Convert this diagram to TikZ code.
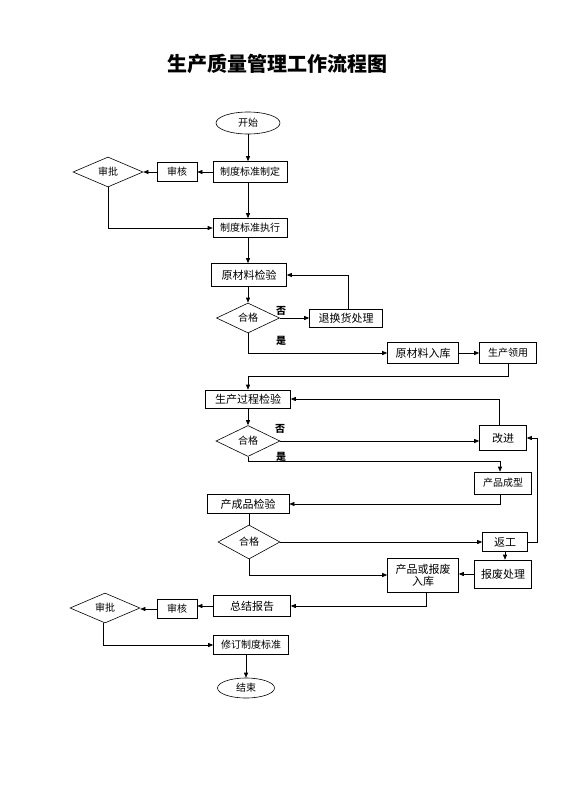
\documentclass[tikz,border=0pt]{standalone}
\usepackage{fontspec}
\setmainfont{Noto Sans CJK SC}
\usetikzlibrary{shapes.geometric,arrows.meta}
\tikzset{
  box/.style={draw, inner sep=0pt, font=\fontsize{10}{12}\selectfont},
  oval/.style={draw, ellipse, inner sep=0pt, font=\fontsize{10}{12}\selectfont},
  check/.style={draw, diamond, inner sep=0pt, font=\fontsize{10}{12}\selectfont},
  arr/.style={-{Triangle[length=5pt,width=4pt]}},
  tag/.style={font=\bfseries\fontsize{10}{12}\selectfont}
}
\begin{document}
\begin{tikzpicture}[x=1pt,y=-1pt, line width=0.6pt]
\useasboundingbox[fill=white] (0,0) rectangle (560,792);
% title
\node (title) at (277,64) {\bfseries\fontsize{20}{24}\selectfont 生产质量管理工作流程图};
% nodes
\node[oval, minimum width=64, minimum height=22] (start) at (248,123) {开始};
\node[box, minimum width=74, minimum height=21] (draft) at (250,172) {制度标准制定};
\node[box, minimum width=40, minimum height=19] (audit1) at (177,172) {审核};
\node[check, minimum width=70, minimum height=30] (approve1) at (108,172) {审批};
\node[box, minimum width=74, minimum height=19] (execute) at (250,228) {制度标准执行};
\node[box, minimum width=75, minimum height=23, font=\fontsize{11}{13}\selectfont] (rawcheck) at (249,275) {原材料检验};
\node[check, minimum width=63, minimum height=30] (pass1) at (248,318) {合格};
\node[box, minimum width=73, minimum height=18, font=\fontsize{11}{13}\selectfont] (returns) at (346,318) {退换货处理};
\node[box, minimum width=71, minimum height=21, font=\fontsize{11}{13}\selectfont] (rawstore) at (423,353) {原材料入库};
\node[box, minimum width=57, minimum height=21] (issue) at (508,353) {生产领用};
\node[box, minimum width=85, minimum height=18, font=\fontsize{11}{13}\selectfont] (proccheck) at (248,399) {生产过程检验};
\node[box, minimum width=47, minimum height=25, font=\fontsize{11}{13}\selectfont] (improve) at (503,438) {改进};
\node[check, minimum width=64, minimum height=31] (pass2) at (248,441) {合格};
\node[box, minimum width=57, minimum height=22] (forming) at (503,483) {产品成型};
\node[box, minimum width=82, minimum height=19, font=\fontsize{11}{13}\selectfont] (finalcheck) at (248,504) {产成品检验};
\node[check, minimum width=62, minimum height=34] (pass3) at (249,542) {合格};
\node[box, minimum width=45, minimum height=19, font=\fontsize{11}{13}\selectfont] (rework) at (505,542) {返工};
\node[box, minimum width=57, minimum height=28, font=\fontsize{11}{13}\selectfont] (scrap) at (503,574) {报废处理};
\node[box, minimum width=71, minimum height=34, align=center, font=\fontsize{11}{12}\selectfont] (stock) at (423,575) {产品或报废\\入库};
\node[box, minimum width=77, minimum height=21, font=\fontsize{11}{13}\selectfont] (report) at (252,606) {总结报告};
\node[box, minimum width=40, minimum height=19] (audit2) at (177,609) {审核};
\node[check, minimum width=70, minimum height=30] (approve2) at (105,608) {审批};
\node[box, minimum width=75, minimum height=19] (revise) at (251,645) {修订制度标准};
\node[oval, minimum width=57, minimum height=20] (finish) at (246,688) {结束};
% yes / no labels
\node[tag] (no1) at (281,311) {否};
\node[tag] (yes1) at (281,341) {是};
\node[tag] (no2) at (280,429) {否};
\node[tag] (yes2) at (281,457) {是};
% connectors
\draw[arr] (start) -- (start |- draft.north);
\draw[arr] (draft) -- (audit1);
\draw[arr] (audit1) -- (approve1);
\draw[arr] (approve1.south) |- (execute.west);
\draw[arr] (draft.south -| start) -- (execute.north -| start);
\draw[arr] (execute.south -| start) -- (rawcheck.north -| start);
\draw[arr] (rawcheck.south -| start) -- (pass1.north);
\draw[arr] (pass1.east) -- (returns.west);
\draw[arr] ([xshift=2pt]returns.north) |- (rawcheck.east);
\draw[arr] (pass1.south) |- (rawstore.west);
\draw[arr] (rawstore) -- (issue);
\coordinate (turn1) at (248,376);
\draw[arr] (issue.south) |- (turn1) -- (proccheck.north -| turn1);
\draw[arr] (proccheck.south -| pass2) -- (pass2.north);
\draw[arr] (pass2.east) -- (pass2.east -| improve.west);
\draw[arr] ([xshift=-4pt]improve.north) |- (proccheck.east);
\coordinate (turn2) at (248,461);
\draw[arr] (pass2.south) -- (turn2) -| ([xshift=-3pt]forming.north);
\draw[arr] ([xshift=-3pt]forming.south) |- (finalcheck.east);
\draw (finalcheck.south -| pass3) -- (pass3.north);
\draw[arr] (pass3.east) -- (rework.west);
\coordinate (loop) at (537,542);
\draw[arr] (rework.east) -- (loop) |- (improve.east);
\draw[arr] (rework.south) -- (rework.south |- scrap.north);
\draw[arr] (scrap.west) -- (scrap.west -| stock.east);
\draw[arr] (pass3.south) |- (stock.west);
\draw[arr] ([xshift=3pt]stock.south) |- (report.east);
\draw[arr] (report.west) -- (report.west -| audit2.east);
\draw[arr] (audit2.west) -- (audit2.west -| approve2.east);
\draw[arr] ([xshift=-2pt]approve2.south) |- (revise.west);
\draw[arr] (revise.south -| finish) -- (finish.north);
\end{tikzpicture}
\end{document}
